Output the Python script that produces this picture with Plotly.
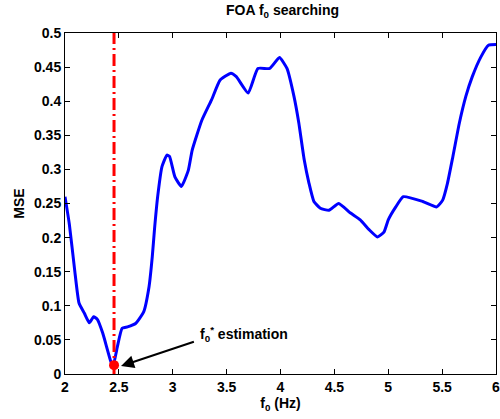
import plotly.graph_objects as go

# MSE of the FOA search over candidate fundamental frequencies
f0_hz = [2.00, 2.04, 2.09, 2.13, 2.18, 2.226, 2.266, 2.30, 2.35, 2.426, 2.447, 2.486,
         2.53, 2.58, 2.655, 2.73, 2.78, 2.81, 2.83, 2.86, 2.90, 2.946, 2.97, 3.02,
         3.08, 3.145, 3.18, 3.27, 3.36, 3.44, 3.54, 3.59, 3.70, 3.79, 3.90, 3.99,
         4.06, 4.125, 4.17, 4.22, 4.264, 4.31, 4.37, 4.45, 4.54, 4.65, 4.74, 4.82,
         4.90, 4.96, 5.00, 5.07, 5.14, 5.32, 5.45, 5.505, 5.55, 5.60, 5.66, 5.72,
         5.78, 5.86, 5.93, 6.00]
mse = [0.260, 0.220, 0.152, 0.104, 0.089, 0.075, 0.084, 0.080, 0.060, 0.018, 0.012, 0.040,
       0.067, 0.069, 0.074, 0.091, 0.128, 0.172, 0.211, 0.260, 0.304, 0.321, 0.319, 0.289,
       0.275, 0.299, 0.328, 0.372, 0.402, 0.431, 0.441, 0.436, 0.412, 0.448, 0.448, 0.464,
       0.448, 0.407, 0.368, 0.314, 0.280, 0.253, 0.243, 0.240, 0.250, 0.236, 0.226, 0.212,
       0.201, 0.208, 0.226, 0.245, 0.260, 0.253, 0.245, 0.255, 0.280, 0.319, 0.368, 0.407,
       0.436, 0.465, 0.482, 0.483]

# estimated optimum
f0_est = 2.455
mse_est = 0.013

x_ticks = [2, 2.5, 3, 3.5, 4, 4.5, 5, 5.5, 6]
x_tick_text = ["2", "2.5", "3", "3.5", "4", "4.5", "5", "5.5", "6"]
y_ticks = [0, 0.05, 0.1, 0.15, 0.2, 0.25, 0.3, 0.35, 0.4, 0.45, 0.5]
y_tick_text = ["0", "0.05", "0.1", "0.15", "0.2", "0.25", "0.3", "0.35", "0.4", "0.45", "0.5"]

FONT = "Liberation Sans, Arial, sans-serif"

fig = go.Figure()

fig.add_trace(go.Scatter(
    x=f0_hz, y=mse, mode="lines",
    line=dict(color="#0000FF", width=3, shape="spline", smoothing=0.45),
    showlegend=False, hoverinfo="skip",
))

fig.add_trace(go.Scatter(
    x=[f0_est, f0_est], y=[0, 0.5], mode="lines",
    line=dict(color="#FF0000", width=3, dash="12px,4px,2px,4px"),
    showlegend=False, hoverinfo="skip",
))

fig.add_trace(go.Scatter(
    x=[f0_est], y=[mse_est], mode="markers",
    marker=dict(color="#FF0000", size=10),
    showlegend=False, hoverinfo="skip",
))

# arrow pointing at the estimate
fig.add_annotation(
    x=2.52, y=0.0117, ax=3.21, ay=0.048,
    xref="x", yref="y", axref="x", ayref="y",
    text="", showarrow=True,
    arrowhead=2, arrowsize=1.3, arrowwidth=2, arrowcolor="black",
)
fig.add_annotation(
    x=3.23, y=0.058, xref="x", yref="y",
    text="<b>f<sub>0</sub><sup>*</sup> estimation</b>",
    showarrow=False, xanchor="left", yanchor="middle",
    font=dict(family=FONT, size=14, color="black"),
)

axis_common = dict(
    showgrid=False, zeroline=False,
    showline=True, linecolor="black", linewidth=1, mirror="ticks",
    ticks="inside", ticklen=5, tickcolor="black",
    ticklabeloverflow="allow",
    tickfont=dict(family=FONT, size=14, color="black"),
)

fig.update_xaxes(
    range=[2, 6], tickmode="array", tickvals=x_ticks,
    ticktext=[f"<b>{t}</b>" for t in x_tick_text],
    title=dict(text="<b>f<sub>0</sub> (Hz)</b>", font=dict(family=FONT, size=14, color="black"),
               standoff=4),
    **axis_common,
)
fig.update_yaxes(
    range=[0, 0.5], tickmode="array", tickvals=y_ticks,
    ticktext=[f"<b>{t}</b>" for t in y_tick_text],
    title=dict(text="<b>MSE</b>", font=dict(family=FONT, size=14, color="black"),
               standoff=6),
    **axis_common,
)

fig.update_layout(
    width=500, height=419,
    margin=dict(l=65, r=0, t=33, b=45),
    paper_bgcolor="white", plot_bgcolor="white",
    title=dict(text="<b>FOA f<sub>0</sub> searching</b>", x=0.565, xanchor="center",
               y=0.975, yanchor="middle",
               font=dict(family=FONT, size=14, color="black")),
)

fig.write_html("out.html")
